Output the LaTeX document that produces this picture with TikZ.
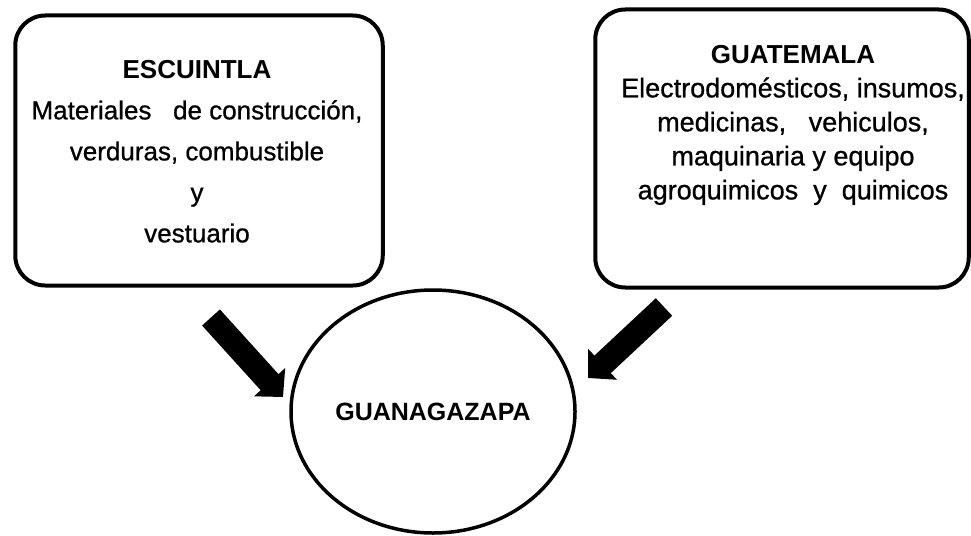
\documentclass[tikz,border=0pt]{standalone}
\usepackage{fontspec}
\setmainfont{Liberation Sans}[UprightFeatures={FakeBold=0.8}]
\usetikzlibrary{arrows.meta,shapes.geometric}

\begin{document}
\begin{tikzpicture}[x=10pt,y=10pt]
\tikzstyle{every node}+=[inner sep=0pt]
\tikzstyle{zona}=[draw=black, line width=4pt, rounded corners=30pt]
\tikzstyle{lista}=[align=center, anchor=north]
\tikzstyle{flujo}=[line width=24pt, -{Triangle[width=41pt,length=20pt]}]
\useasboundingbox (0,0) rectangle (97.1,-53.5);
\node [zona, minimum width=367.5pt, minimum height=270pt] (escuintla) at (19.9,-15.05) {};
\node [lista, font=\fontsize{26pt}{41pt}\selectfont] (escuintlatxt) at (19.7,-6.0) {{\bfseries\fontsize{26pt}{41pt}\selectfont ESCUINTLA}\\Materiales\ \ \ de construcción,\\verduras, combustible\\y\\vestuario};
\node [zona, minimum width=373.5pt, minimum height=278pt] (guatemala) at (78.2,-14.85) {};
\node [lista, font=\fontsize{27pt}{34pt}\selectfont] (guatemalatxt) at (79.3,-4.5) {{\bfseries\fontsize{26pt}{34pt}\selectfont GUATEMALA}\\Electrodomésticos, insumos,\\medicinas,\ \ \ vehiculos,\\maquinaria y equipo\\agroquimicos\ \ y\ \ quimicos};
\node [draw, ellipse, line width=3.5pt, minimum width=284pt, minimum height=243pt, font=\bfseries\fontsize{25pt}{30pt}\selectfont] (guanagazapa) at (43.3,-41.15) {GUANAGAZAPA};
\coordinate (escuintlacola) at (21.1,-31.75);
\coordinate (escuintlapunta) at (28.3,-39.7);
\coordinate (guatemalacola) at (66.4,-30.7);
\coordinate (guatemalapunta) at (58.8,-37.8);
\draw [flujo] (escuintlacola) -- (escuintlapunta);
\draw [flujo] (guatemalacola) -- (guatemalapunta);
\end{tikzpicture}
\end{document}
